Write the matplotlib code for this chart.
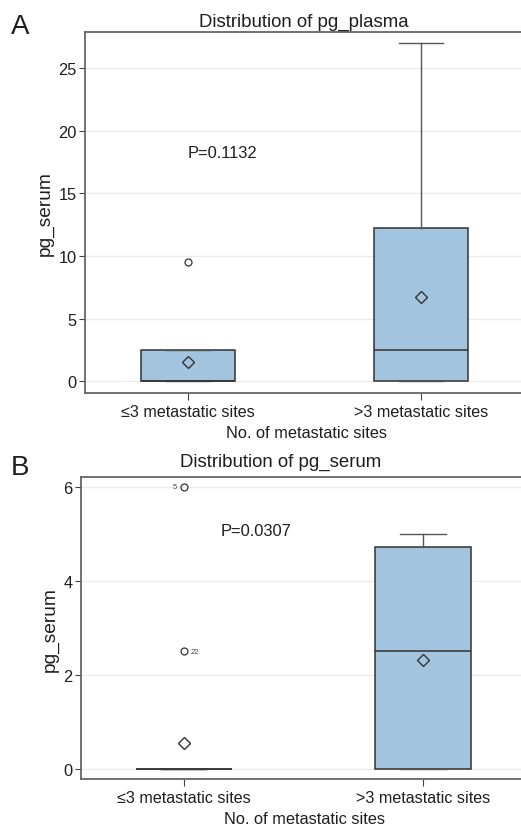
import matplotlib
matplotlib.use('Agg')
import matplotlib.pyplot as plt

plt.rcParams['font.family'] = ['Liberation Sans', 'DejaVu Sans']

categories = ['≤3 metastatic sites', '>3 metastatic sites']

# panel A: pg_plasma
a_q1 = [0, 0]
a_med = [0, 2.5]
a_q3 = [2.5, 12.2]
a_lo = [0, 0]
a_hi = [2.5, 27]
a_mean = [1.5, 6.75]
a_fliers = [[9.5], []]
a_p = 'P=0.1132'

# panel B: pg_serum
b_q1 = [0, 0]
b_med = [0, 2.5]
b_q3 = [0, 4.72]
b_lo = [0, 0]
b_hi = [0, 5.0]
b_mean = [0.55, 2.32]
b_fliers = [[6.0, 2.5], []]
b_flier_ids = [['5', '22'], []]
b_p = 'P=0.0307'

box_color = '#a2c4de'
edge_color = '#333333'
spine_color = '#666666'
text_color = '#1e1e1e'


def make_stats(q1, med, q3, lo, hi, mean, fliers):
    stats = []
    for i in range(len(q1)):
        stats.append({'q1': q1[i], 'med': med[i], 'q3': q3[i], 'whislo': lo[i],
                      'whishi': hi[i], 'mean': mean[i], 'fliers': fliers[i]})
    return stats


def draw_panel(ax, stats, xlim, ylim, yticks):
    ax.bxp(stats, positions=[1, 2], widths=0.4, patch_artist=True, showmeans=True,
           boxprops=dict(facecolor=box_color, edgecolor=edge_color, linewidth=1.1),
           medianprops=dict(color=edge_color, linewidth=1.1),
           whiskerprops=dict(color='#555555', linewidth=1.0),
           capprops=dict(color='#555555', linewidth=1.0),
           capwidths=0.19,
           meanprops=dict(marker='D', markersize=6, markerfacecolor='none',
                          markeredgecolor=edge_color, markeredgewidth=1.0),
           flierprops=dict(marker='o', markersize=5, markerfacecolor='none',
                           markeredgecolor=edge_color, markeredgewidth=0.9))
    ax.set_xlim(*xlim)
    ax.set_ylim(*ylim)
    ax.set_yticks(yticks)
    ax.set_xticks([1, 2])
    ax.set_xticklabels(categories, fontsize=11.6, color=text_color)
    ax.tick_params(axis='y', labelsize=11.8, labelcolor=text_color, length=4, color='#444444', pad=2)
    ax.tick_params(axis='x', length=5, color='#444444', pad=3)
    ax.yaxis.grid(True, color='#ebebeb', linewidth=1.0)
    ax.set_axisbelow(True)
    for s in ax.spines.values():
        s.set_color(spine_color)
        s.set_linewidth(1.3)
    # the frame runs off the right edge of the picture
    ax.spines['right'].set_visible(False)
    ax.set_xlabel('No. of metastatic sites', fontsize=11.8, color=text_color, labelpad=4)
    ax.set_ylabel('pg_serum', fontsize=13.8, color=text_color, labelpad=3)


fig = plt.figure(figsize=(5.21, 8.29), dpi=100)

ax1 = fig.add_axes([85 / 521, 1 - 394 / 829, (527 - 85) / 521, (394 - 33) / 829])
draw_panel(ax1, make_stats(a_q1, a_med, a_q3, a_lo, a_hi, a_mean, a_fliers),
           (1 - 103 / 233, 2 + 106 / 233), (-0.95, 27.9), [0, 5, 10, 15, 20, 25])
ax1.text(1.0, 18.3, a_p, fontsize=11.9, color=text_color, va='center', ha='left')
fig.text(304 / 521, 1 - 22 / 829, 'Distribution of pg_plasma', fontsize=13.4,
         ha='center', va='center', color=text_color)
fig.text(20 / 521, 1 - 27 / 829, 'A', fontsize=20, ha='center', va='center', color=text_color)

ax2 = fig.add_axes([80.7 / 521, 1 - 780 / 829, (528 - 80.7) / 521, (780 - 478.3) / 829])
draw_panel(ax2, make_stats(b_q1, b_med, b_q3, b_lo, b_hi, b_mean, b_fliers),
           (1 - 103 / 239, 2 + 105 / 239), (-0.21, 6.2), [0, 2, 4, 6])
ax2.text(1.155, 5.06, b_p, fontsize=11.9, color=text_color, va='center', ha='left')
# flier labels
for j, v in enumerate(b_fliers[0]):
    lab = b_flier_ids[0][j]
    if j == 0:
        ax2.text(0.97, v, lab, fontsize=5.5, ha='right', va='center', color='#444444')
    else:
        ax2.text(1.03, v, lab, fontsize=5.5, ha='left', va='center', color='#444444')
fig.text(281 / 521, 1 - 462.7 / 829, 'Distribution of pg_serum', fontsize=13.4,
         ha='center', va='center', color=text_color)
fig.text(20 / 521, 1 - 468 / 829, 'B', fontsize=20, ha='center', va='center', color=text_color)

fig.savefig('out.png', dpi=100)
